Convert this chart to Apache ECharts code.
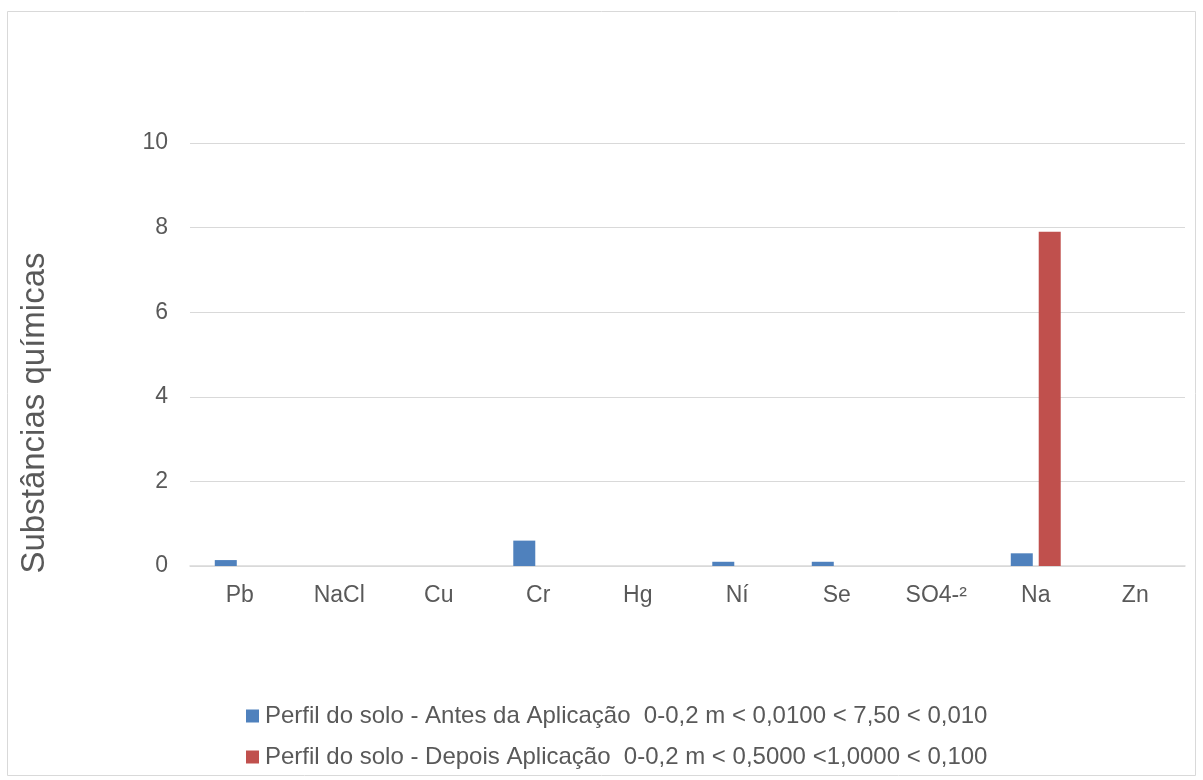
<!DOCTYPE html>
<html>
<head>
<meta charset="utf-8">
<script src="https://cdn.jsdelivr.net/npm/echarts@6/dist/echarts.min.js"></script>
<style>
  html, body { margin: 0; padding: 0; background: #fff; }
  #chart { width: 1203px; height: 780px; }
</style>
</head>
<body>
<div id="chart"></div>
<script>
// Substances measured in the soil profile (0-0,2 m)
const categories = ['Pb', 'NaCl', 'Cu', 'Cr', 'Hg', 'Ní', 'Se', 'SO4-²', 'Na', 'Zn'];
const antesValues = [0.14, 0, 0, 0.6, 0, 0.1, 0.1, 0, 0.3, 0];
const depoisValues = [0, 0, 0, 0, 0, 0, 0, 0, 7.9, 0];
const seriesNames = [
  'Perfil do solo - Antes da Aplicação  0-0,2 m < 0,0100 < 7,50 < 0,010',
  'Perfil do solo - Depois Aplicação  0-0,2 m < 0,5000 <1,0000 < 0,100'
];
const yAxisTitle = 'Substâncias químicas';
const yTicks = { min: 0, max: 10, interval: 2 };

const chart = echarts.init(document.getElementById('chart'));
const font = 'Arial, "Liberation Sans", Helvetica, sans-serif';

chart.setOption({
  animation: false,
  backgroundColor: '#fff',
  textStyle: { fontFamily: font },
  graphic: [
    {
      type: 'rect',
      shape: { x: 7.5, y: 11.5, width: 1188, height: 764 },
      style: { fill: 'none', stroke: '#d9d9d9', lineWidth: 1 },
      silent: true
    },
    {
      type: 'text',
      x: 35,
      y: 413,
      rotation: Math.PI / 2,
      style: {
        text: yAxisTitle,
        fill: '#595959',
        fontSize: 33,
        fontFamily: font,
        align: 'center',
        verticalAlign: 'middle'
      },
      silent: true
    }
  ],
  grid: { left: 190, right: 18, top: 143, bottom: 214, containLabel: false },
  legend: {
    orient: 'vertical',
    left: 241,
    top: 699,
    itemGap: 17,
    itemWidth: 13,
    itemHeight: 13,
    icon: 'rect',
    textStyle: { color: '#595959', fontSize: 24, fontFamily: font, padding: [0, 0, 0, 1] },
    data: seriesNames
  },
  xAxis: {
    type: 'category',
    data: categories,
    axisLine: { lineStyle: { color: '#d9d9d9', width: 1.5 } },
    axisTick: { show: false },
    axisLabel: { color: '#595959', fontSize: 23, margin: 18, fontFamily: font }
  },
  yAxis: {
    type: 'value',
    min: yTicks.min,
    max: yTicks.max,
    interval: yTicks.interval,
    axisLine: { show: false },
    axisTick: { show: false },
    axisLabel: { color: '#595959', fontSize: 23, margin: 22, fontFamily: font, padding: [3, 0, 0, 0] },
    splitLine: { lineStyle: { color: '#d9d9d9', width: 1.2 } }
  },
  series: [
    {
      name: seriesNames[0],
      type: 'bar',
      data: antesValues,
      barWidth: 22,
      barGap: '27%',
      itemStyle: { color: '#4f81bd' }
    },
    {
      name: seriesNames[1],
      type: 'bar',
      data: depoisValues,
      barWidth: 22,
      itemStyle: { color: '#c0504d' }
    }
  ]
});
</script>
</body>
</html>
